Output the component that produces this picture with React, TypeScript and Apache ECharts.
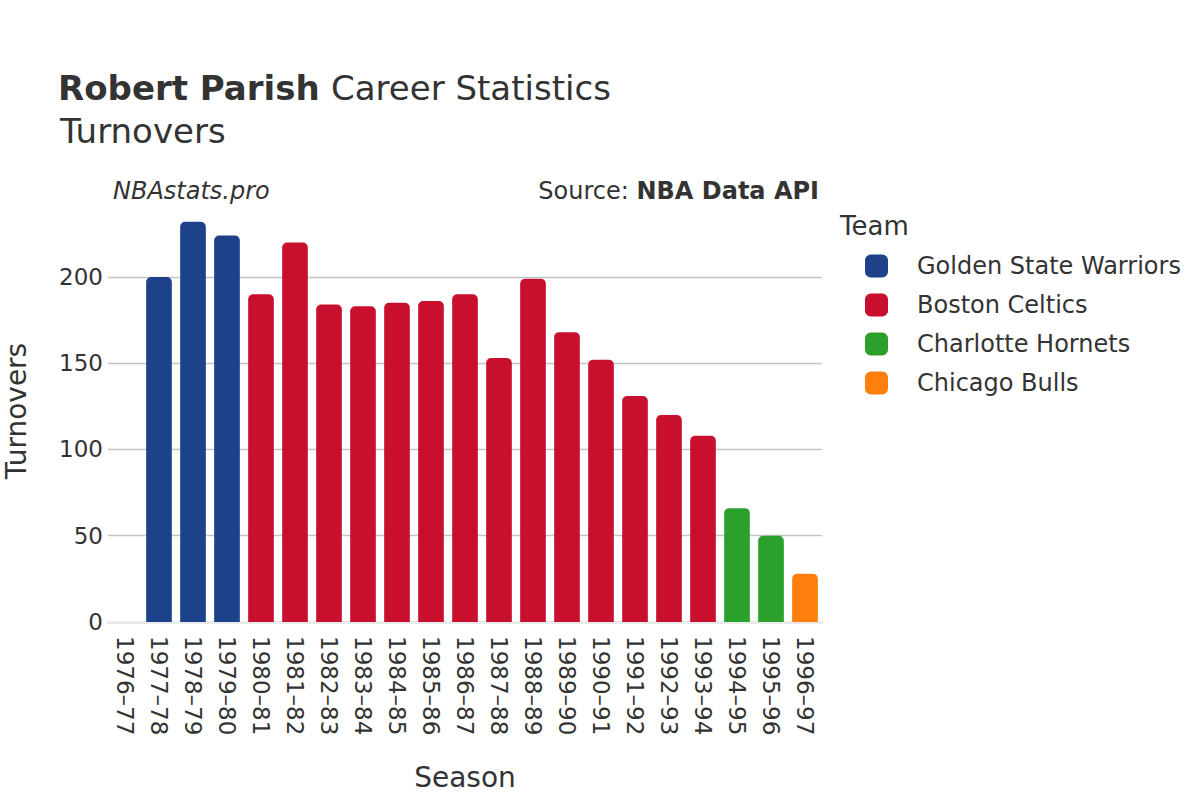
import React, { useEffect, useRef } from "react";
import * as echarts from "echarts";

const seasons = [
  "1976–77", "1977–78", "1978–79", "1979–80", "1980–81", "1981–82", "1982–83",
  "1983–84", "1984–85", "1985–86", "1986–87", "1987–88", "1988–89", "1989–90",
  "1990–91", "1991–92", "1992–93", "1993–94", "1994–95", "1995–96", "1996–97",
];
const seasonTeams = [
  "Golden State Warriors", "Golden State Warriors", "Golden State Warriors", "Golden State Warriors",
  "Boston Celtics", "Boston Celtics", "Boston Celtics", "Boston Celtics", "Boston Celtics",
  "Boston Celtics", "Boston Celtics", "Boston Celtics", "Boston Celtics", "Boston Celtics",
  "Boston Celtics", "Boston Celtics", "Boston Celtics", "Boston Celtics",
  "Charlotte Hornets", "Charlotte Hornets", "Chicago Bulls",
];
const turnovers: (number | null)[] = [
  null, 200, 232, 224, 190, 220, 184, 183, 185, 186, 190,
  153, 199, 168, 152, 131, 120, 108, 66, 50, 28,
];
const teams = ["Golden State Warriors", "Boston Celtics", "Charlotte Hornets", "Chicago Bulls"];
const teamColors = ["#1d428a", "#c8102e", "#2ca02c", "#ff7f0e"];
const yTicks = [0, 50, 100, 150, 200];
const yMax = 244.6;

const FONT = "DejaVu Sans";
const TXT = "#333333";

export default function App() {
  const ref = useRef<HTMLDivElement>(null);
  useEffect(() => {
    if (!ref.current) return;
    const chart = echarts.init(ref.current, null, { renderer: "svg" });
    const series = teams.map((t, k) => ({
      name: t,
      type: "bar",
      stack: "all",
      barWidth: "75.5%",
      itemStyle: { color: teamColors[k], borderRadius: [5, 5, 0, 0] },
      data: seasons.map((_, i) =>
        seasonTeams[i] === t && turnovers[i] != null ? turnovers[i] : "-"
      ),
    }));
    chart.setOption({
      animation: false,
      textStyle: { fontFamily: FONT },
      grid: { left: 108, right: 378, top: 622 - 422, bottom: 800 - 622, containLabel: false },
      xAxis: {
        type: "category",
        data: seasons,
        axisTick: { show: false },
        axisLine: { show: true, lineStyle: { color: "#ebebeb", width: 3 } },
        axisLabel: {
          rotate: -90,
          margin: 14,
          fontSize: 23,
          color: TXT,
          fontFamily: FONT,
          interval: 0,
        },
      },
      yAxis: {
        type: "value",
        min: 0,
        max: yMax,
        interval: 50,
        axisLine: { show: false },
        axisTick: { show: false },
        splitLine: {
          show: true,
          showMinLine: false,
          showMaxLine: false,
          lineStyle: { color: "#c4c4c4", width: 1.3 },
        },
        axisLabel: {
          margin: 5,
          fontSize: 23,
          color: TXT,
          fontFamily: FONT,
          showMaxLabel: false,
          formatter: (v: number) => (yTicks.includes(v) ? String(v) : ""),
        },
      },
      legend: {
        data: teams,
        orient: "vertical",
        left: 865,
        top: 254,
        padding: 0,
        icon: "roundRect",
        itemWidth: 23,
        itemHeight: 23,
        itemGap: 15,
        selectedMode: false,
        textStyle: { fontSize: 24, color: TXT, fontFamily: FONT, padding: [0, 0, 0, 24] },
      },
      graphic: [
        {
          type: "text",
          x: 58,
          y: 88,
          style: {
            text: "Robert Parish",
            font: `bold 34px "${FONT}"`,
            fill: TXT,
            verticalAlign: "middle",
          },
        },
        {
          type: "text",
          x: 331,
          y: 88,
          style: {
            text: "Career Statistics",
            font: `34px "${FONT}"`,
            fill: TXT,
            verticalAlign: "middle",
          },
        },
        {
          type: "text",
          x: 60,
          y: 131,
          style: {
            text: "Turnovers",
            font: `34px "${FONT}"`,
            fill: TXT,
            verticalAlign: "middle",
          },
        },
        {
          type: "text",
          x: 113,
          y: 191,
          style: {
            text: "NBAstats.pro",
            font: `italic 24px "${FONT}"`,
            fill: TXT,
            verticalAlign: "middle",
          },
        },
        {
          type: "text",
          x: 819,
          y: 191,
          style: {
            text: "{n|Source: }{b|NBA Data API}",
            align: "right",
            verticalAlign: "middle",
            rich: {
              n: { fontFamily: FONT, fontSize: 24, fill: TXT, color: TXT },
              b: { fontFamily: FONT, fontSize: 24, fontWeight: "bold", fill: TXT, color: TXT },
            },
          },
        },
        {
          type: "text",
          x: 840,
          y: 226,
          style: {
            text: "Team",
            font: `26px "${FONT}"`,
            fill: TXT,
            verticalAlign: "middle",
          },
        },
        {
          type: "text",
          x: 16,
          y: 411,
          rotation: Math.PI / 2,
          style: {
            text: "Turnovers",
            font: `28px "${FONT}"`,
            fill: TXT,
            align: "center",
            verticalAlign: "middle",
          },
        },
        {
          type: "text",
          x: 465,
          y: 777,
          style: {
            text: "Season",
            font: `28px "${FONT}"`,
            fill: TXT,
            align: "center",
            verticalAlign: "middle",
          },
        },
      ],
      series,
    });
    return () => chart.dispose();
  }, []);
  return (
    <div
      ref={ref}
      style={{ position: "fixed", left: 0, top: 0, width: 1200, height: 800, background: "#fff" }}
    />
  );
}
